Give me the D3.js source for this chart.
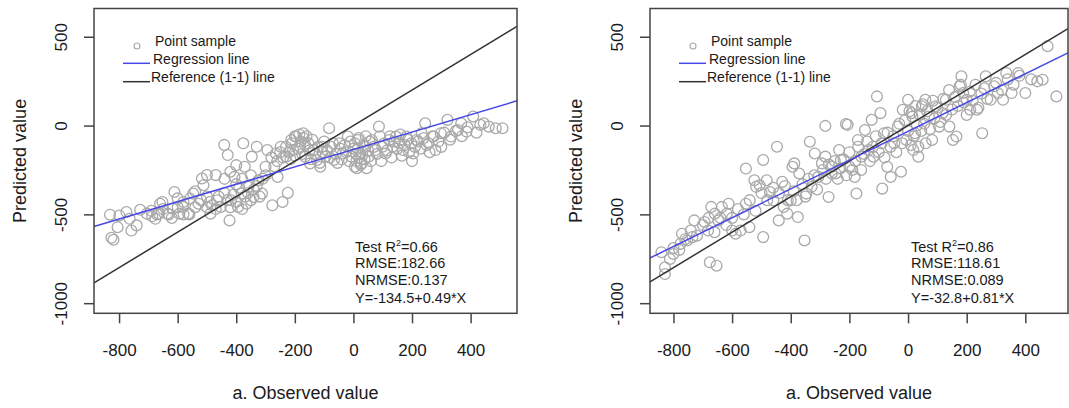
<!DOCTYPE html>
<html>
<head>
<meta charset="utf-8">
<script src="https://cdn.jsdelivr.net/npm/d3@7"></script>
<style>
  body { margin: 0; background: #fff; }
  svg { display: block; font-family: "Liberation Sans", Arial, Helvetica, sans-serif; }
</style>
</head>
<body>
<svg id="chart" width="1069" height="408"></svg>
<script>
// tick labels
var xTicks = [-800, -600, -400, -200, 0, 200, 400];
var yTicks = [-1000, -500, 0, 500];
var legendLabels = ["Point sample", "Regression line", "Reference (1-1) line"];

// panel a (left): observed / predicted pairs
var sampleA = [
  [-831,-502],[-826,-632],[-819,-643],[-799,-506],[-775,-487],[-805,-572],[-758,-591],[-740,-562],
  [-728,-474],[-764,-525],[-705,-496],[-687,-511],[-676,-525],[-664,-496],[-652,-430],[-635,-496],
  [-617,-468],[-611,-374],[-594,-496],[-582,-458],[-564,-496],[-558,-411],[-547,-383],[-529,-440],
  [-517,-298],[-512,-336],[-500,-279],[-488,-496],[-482,-449],[-470,-279],[-465,-421],[-453,-458],
  [-441,-109],[-429,-166],[-423,-534],[-418,-421],[-406,-289],[-400,-223],[-394,-458],[-382,-383],
  [-376,-100],[-371,-232],[-365,-440],[-359,-345],[-347,-175],[-341,-402],[-330,-119],[-324,-308],
  [-312,-383],[-300,-232],[-294,-138],[-277,-449],[-265,-157],[-259,-289],[-248,-119],[-242,-430],
  [-224,-379],[-230,-175],[-212,-81],[-206,-138],[-195,-62],[-183,-119],[-171,-43],[-165,-175],
  [-154,-100],[-148,-213],[-136,-138],[-124,-194],[-113,-232],[-107,-119],[-95,-175],[-83,-15],
  [-77,-119],[-66,-194],[-48,-100],[-36,-157],[-19,-62],[-7,-175],[5,-232],[16,-81],[22,-157],
  [28,-213],[40,-119],[52,-175],[63,-81],[75,-138],[87,-6],[99,-119],[110,-157],[122,-81],
  [134,-119],[145,-62],[157,-100],[169,-138],[181,-62],[198,-100],[204,-157],[216,-81],[233,-43],
  [245,13],[257,-100],[274,-62],[280,-138],[298,-43],[321,32],[333,-62],[357,-25],[368,13],
  [386,-34],[409,51],[433,4],[445,13],[462,-6],[486,-15],[509,-15],
  [-230,-120],[-220,-150],[-210,-100],[-200,-170],[-190,-130],[-180,-90],[-175,-160],[-165,-110],
  [-160,-60],[-150,-140],[-145,-190],[-140,-80],[-130,-160],[-120,-120],[-115,-210],[-105,-150],
  [-100,-90],[-200,-60],[-185,-50],[-170,-70],[-215,-190],[-240,-180],[-250,-150],[-260,-200],
  [-270,-230],[-280,-180],[-90,-140],[-80,-180],[-70,-100],[-60,-160],[-55,-210],[-45,-130],
  [-40,-190],[-30,-110],[-25,-150],[-15,-200],[-10,-90],[0,-130],[5,-100],[8,-160],[10,-200],
  [12,-240],[15,-130],[18,-70],[20,-180],[25,-220],[30,-150],[35,-110],[38,-190],[42,-60],
  [45,-240],[50,-140],[55,-90],[60,-200],[70,-120],[80,-160],[90,-60],[95,-200],[105,-100],
  [115,-140],[125,-60],[130,-180],[140,-90],[150,-130],[160,-50],[165,-170],[175,-110],[185,-80],
  [190,-150],[200,-200],[210,-120],[220,-90],[230,-130],[240,-70],[250,-110],[260,-150],[270,-60],
  [290,-90],[300,-120],[310,-40],[330,-80],[350,-30],[370,-60],[390,-10],[420,-40],
  [-440,-380],[-430,-420],[-420,-460],[-410,-390],[-400,-430],[-390,-350],[-380,-470],[-370,-400],
  [-360,-380],[-350,-420],[-340,-360],[-330,-340],[-320,-400],[-310,-300],[-300,-280],[-460,-400],
  [-470,-470],[-490,-430],[-500,-460],[-440,-300],[-420,-260],[-400,-330],[-380,-300],[-350,-280],
  [-690,-480],[-670,-500],[-650,-470],[-630,-500],[-600,-460],[-580,-430],[-560,-500],[-540,-460],
  [-520,-420],[-500,-400],[-620,-520],[-600,-410],[-660,-440],[-580,-500],[-540,-370]
];
var fitA = [-134.5, 0.49];           // intercept, slope
var r2A = "0.66";
var statsA = ["RMSE:182.66", "NRMSE:0.137", "Y=-134.5+0.49*X"];

// panel b (right)
var sampleB = [
  [-829,-798],[-829,-836],[-841,-713],[-812,-751],[-800,-723],[-776,-666],[-771,-609],[-753,-647],
  [-735,-628],[-729,-534],[-741,-591],[-694,-543],[-682,-591],[-676,-770],[-653,-789],[-671,-458],
  [-659,-496],[-647,-534],[-635,-458],[-618,-496],[-612,-440],[-600,-591],[-588,-609],[-571,-591],
  [-553,-242],[-553,-440],[-541,-572],[-524,-308],[-518,-345],[-506,-336],[-494,-194],[-494,-628],
  [-482,-308],[-471,-374],[-459,-421],[-447,-119],[-441,-534],[-429,-317],[-424,-458],[-412,-496],
  [-400,-421],[-394,-232],[-388,-213],[-376,-515],[-371,-270],[-353,-647],[-347,-383],[-335,-91],
  [-329,-345],[-318,-157],[-306,-289],[-294,-213],[-282,-2],[-282,-175],[-271,-402],[-259,-232],
  [-247,-270],[-235,-138],[-229,-194],[-212,9],[-206,4],[-200,-232],[-182,-289],[-176,-383],
  [-171,-81],[-159,-175],[-147,-25],[-135,-138],[-124,32],[-118,-175],[-106,164],[-94,70],
  [-88,-355],[-82,-43],[-71,-232],[-59,-289],[-47,-100],[-35,-6],[-24,-260],[-18,89],[-6,-81],
  [0,145],[12,70],[18,-138],[24,-43],[35,-175],[47,108],[59,145],[71,51],[82,-81],[94,108],
  [106,-6],[118,70],[129,145],[141,-6],[153,-81],[165,-62],[176,221],[182,277],[188,183],
  [200,145],[212,89],[235,89],[253,-43],[265,277],[282,145],[294,221],[306,183],[324,145],
  [335,296],[353,183],[376,296],[400,183],[441,249],[459,258],[476,447],[506,164],
  [-800,-690],[-780,-700],[-760,-640],[-720,-620],[-700,-560],[-680,-520],[-660,-600],[-640,-520],
  [-620,-560],[-600,-520],[-580,-470],[-560,-500],[-540,-420],[-520,-480],[-500,-380],[-480,-420],
  [-460,-350],[-440,-380],[-420,-340],[-410,-420],[-390,-370],[-380,-420],[-360,-330],[-350,-400],
  [-340,-300],[-320,-280],[-310,-360],[-290,-250],[-280,-300],[-270,-220],[-260,-270],[-250,-200],
  [-240,-300],[-230,-240],[-220,-190],[-210,-280],[-200,-150],[-190,-250],[-180,-200],[-170,-120],
  [-160,-250],[-150,-160],[-140,-90],[-130,-200],[-120,-120],[-110,-60],[-100,-150],[-90,-100],
  [-80,-180],[-70,-40],[-60,-120],[-50,-60],[-40,-150],[-30,10],[-20,-100],[-10,30],[0,-30],
  [5,80],[10,-110],[15,50],[20,-60],[25,110],[30,0],[35,-120],[40,60],[45,-30],[50,120],[55,10],
  [60,-100],[65,80],[75,-20],[85,140],[90,40],[100,100],[110,20],[120,150],[130,60],[140,200],
  [150,90],[160,160],[170,110],[180,230],[190,130],[200,60],[210,190],[220,140],[230,230],
  [240,100],[250,180],[260,210],[270,150],[300,240],[320,200],[340,260],[360,230],[380,280],[420,260]
];
var fitB = [-32.8, 0.81];
var r2B = "0.86";
var statsB = ["RMSE:118.61", "NRMSE:0.089", "Y=-32.8+0.81*X"];

var svg = d3.select("#chart");
var plotTop = 8.5, plotBottom = 313.3;
var yDomain = [-1057, 659];
var fmt = function(d) { return String(d); };   // plain hyphen minus, as in R

function drawPanel(left, right, xDomain, sample, fit, r2, stats) {
  var x = d3.scaleLinear().domain(xDomain).range([left, right]);
  var y = d3.scaleLinear().domain(yDomain).range([plotBottom, plotTop]);
  var g = svg.append("g");

  // points
  g.append("g").selectAll("circle").data(sample).enter()
    .append("circle")
    .attr("cx", function(d) { return x(d[0]); })
    .attr("cy", function(d) { return y(d[1]); })
    .attr("r", 5.4)
    .style("fill", "none")
    .style("stroke", "#a9a9a9")
    .style("stroke-width", 1.3);

  // reference (1-1) line and regression line
  g.append("line")
    .attr("x1", x(xDomain[0])).attr("y1", y(xDomain[0]))
    .attr("x2", x(xDomain[1])).attr("y2", y(xDomain[1]))
    .style("stroke", "#333").style("stroke-width", 1.5);
  g.append("line")
    .attr("x1", x(xDomain[0])).attr("y1", y(fit[0] + fit[1] * xDomain[0]))
    .attr("x2", x(xDomain[1])).attr("y2", y(fit[0] + fit[1] * xDomain[1]))
    .style("stroke", "#4848e6").style("stroke-width", 1.5);

  // box
  g.append("rect")
    .attr("x", left).attr("y", plotTop)
    .attr("width", right - left).attr("height", plotBottom - plotTop)
    .style("fill", "none").style("stroke", "#444").style("stroke-width", 1.5);

  // axes
  var xa = g.append("g").attr("transform", "translate(0," + plotBottom + ")")
    .call(d3.axisBottom(x).tickValues(xTicks).tickSize(10).tickPadding(21).tickFormat(fmt));
  var ya = g.append("g").attr("transform", "translate(" + left + ",0)")
    .call(d3.axisLeft(y).tickValues(yTicks).tickSize(10).tickFormat(fmt));
  [xa, ya].forEach(function(a) {
    a.select(".domain").remove();
    a.selectAll("line").style("stroke", "#444").style("stroke-width", 1.5);
    a.selectAll("text").attr("font-size", 17).attr("font-family", null).style("fill", "#1a1a1a");
  });
  ya.selectAll("text")
    .attr("x", null).attr("dy", null)
    .attr("text-anchor", "middle")
    .attr("transform", "translate(-27,0) rotate(-90)");

  // axis titles
  g.append("text")
    .attr("x", (left + right) / 2).attr("y", 399)
    .attr("text-anchor", "middle").attr("font-size", 18).style("fill", "#1a1a1a")
    .text("a. Observed value");
  g.append("text")
    .attr("transform", "translate(" + (left - 68) + "," + ((plotTop + plotBottom) / 2) + ") rotate(-90)")
    .attr("text-anchor", "middle").attr("font-size", 18).style("fill", "#1a1a1a")
    .text("Predicted value");

  // legend
  var lg = g.append("g").attr("font-size", 14).style("fill", "#1a1a1a");
  lg.append("circle").attr("cx", left + 43).attr("cy", 46).attr("r", 3)
    .style("fill", "none").style("stroke", "#a9a9a9").style("stroke-width", 1.1);
  lg.append("line").attr("x1", left + 29).attr("x2", left + 56).attr("y1", 63.3).attr("y2", 63.3)
    .style("stroke", "#4848e6").style("stroke-width", 1.5);
  lg.append("line").attr("x1", left + 29).attr("x2", left + 56).attr("y1", 81.7).attr("y2", 81.7)
    .style("stroke", "#333").style("stroke-width", 1.5);
  lg.selectAll("text").data(legendLabels).enter()
    .append("text")
    .attr("x", function(d, i) { return left + 61 - i * 2; })
    .attr("y", function(d, i) { return 46 + i * 18; })
    .text(function(d) { return d; });

  // stats
  var st = g.append("g").attr("font-size", 14.5).style("fill", "#1a1a1a");
  var t0 = st.append("text").attr("x", left + 261).attr("y", 251.5);
  t0.append("tspan").text("Test R");
  t0.append("tspan").attr("font-size", 9).attr("dy", -6).text("2");
  t0.append("tspan").attr("dy", 6).text("=" + r2);
  st.selectAll("text.s").data(stats).enter()
    .append("text").attr("class", "s")
    .attr("x", left + 261)
    .attr("y", function(d, i) { return 268 + i * 17.3; })
    .text(function(d) { return d; });
}

drawPanel(94, 517, [-885.6, 558.4], sampleA, fitA, r2A, statsA);
drawPanel(650, 1068, [-880, 545.5], sampleB, fitB, r2B, statsB);
</script>
</body>
</html>
